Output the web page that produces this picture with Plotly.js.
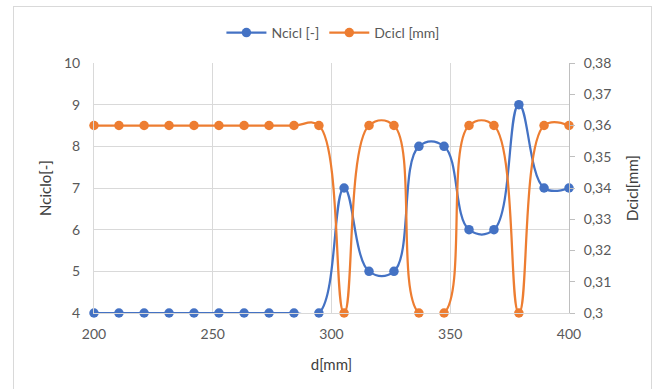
<!DOCTYPE html>
<html>
<head>
<meta charset="utf-8">
<script src="https://cdn.plot.ly/plotly-3.0.1.min.js"></script>
<style>
html,body{margin:0;padding:0;background:#fff;}
#wrap{position:relative;width:656px;height:389px;}
#chart{position:absolute;left:0;top:0;width:656px;height:389px;}
#frame{position:absolute;left:13px;top:6px;width:637px;height:390px;border:1px solid #d9d9d9;pointer-events:none;}
</style>
</head>
<body>
<div id="wrap"><div id="chart"></div><div id="frame"></div></div>
<script>
// Data
const d = [200, 210.5, 221.1, 231.6, 242.1, 252.6, 263.2, 273.7, 284.2, 294.7,
           305.3, 315.8, 326.3, 336.8, 347.4, 357.9, 368.4, 378.9, 389.5, 400];
const ncicl = [4, 4, 4, 4, 4, 4, 4, 4, 4, 4,
               7, 5, 5, 8, 8, 6, 6, 9, 7, 7];
const dcicl = [0.36, 0.36, 0.36, 0.36, 0.36, 0.36, 0.36, 0.36, 0.36, 0.36,
               0.30, 0.36, 0.36, 0.30, 0.30, 0.36, 0.36, 0.30, 0.36, 0.36];
const seriesNames = ['Ncicl [-]', 'Dcicl [mm]'];
const xTitle = 'd[mm]';
const y1Title = 'Nciclo[-]';
const y2Title = 'Dcicl[mm]';

const FONT = 'Lato, "Open Sans", sans-serif';
const traces = [
  {x: d, y: ncicl, name: seriesNames[0], type: 'scatter', mode: 'lines+markers',
   line: {color: '#4472C4', width: 2.25, shape: 'spline', smoothing: 1.15},
   marker: {color: '#4472C4', size: 9.5}, yaxis: 'y', cliponaxis: false},
  {x: d, y: dcicl, name: seriesNames[1], type: 'scatter', mode: 'lines+markers',
   line: {color: '#ED7D31', width: 2.25, shape: 'spline', smoothing: 1.15},
   marker: {color: '#ED7D31', size: 9.5}, yaxis: 'y2', cliponaxis: false}
];
const layout = {
  width: 656, height: 389,
  margin: {l: 94, r: 87, t: 63, b: 76},
  paper_bgcolor: '#fff', plot_bgcolor: '#fff',
  separators: ',.',
  font: {family: FONT, size: 14, color: '#595959'},
  showlegend: true,
  legend: {orientation: 'h', x: 0.503, xanchor: 'center', y: 1.12, yanchor: 'middle',
           font: {size: 14, color: '#595959'}, itemwidth: 40, tracegroupgap: 0},
  xaxis: {range: [200, 400], dtick: 50, tick0: 200, showgrid: true, gridcolor: '#d9d9d9',
          zeroline: false, showline: true, linecolor: '#d9d9d9', ticks: '',
          ticklabelstandoff: 8,
          title: {text: xTitle, font: {size: 15, color: '#404040'}, standoff: 18}},
  yaxis: {range: [4, 10], dtick: 1, showgrid: true, gridcolor: '#d9d9d9', zeroline: false,
          showline: true, linecolor: '#d9d9d9', ticks: '', ticklabelstandoff: 10,
          title: {text: y1Title, font: {size: 15, color: '#404040'}, standoff: 8}},
  yaxis2: {range: [0.3, 0.38], dtick: 0.01, overlaying: 'y', side: 'right', showgrid: false,
           zeroline: false, showline: true, linecolor: '#bfbfbf', ticks: 'outside', ticklen: 5,
           tickcolor: '#bfbfbf', ticklabelstandoff: 6,
           title: {text: y2Title, font: {size: 15, color: '#404040'}, standoff: 17}}
};
Plotly.newPlot('chart', traces, layout, {displayModeBar: false, staticPlot: true});
</script>
</body>
</html>
